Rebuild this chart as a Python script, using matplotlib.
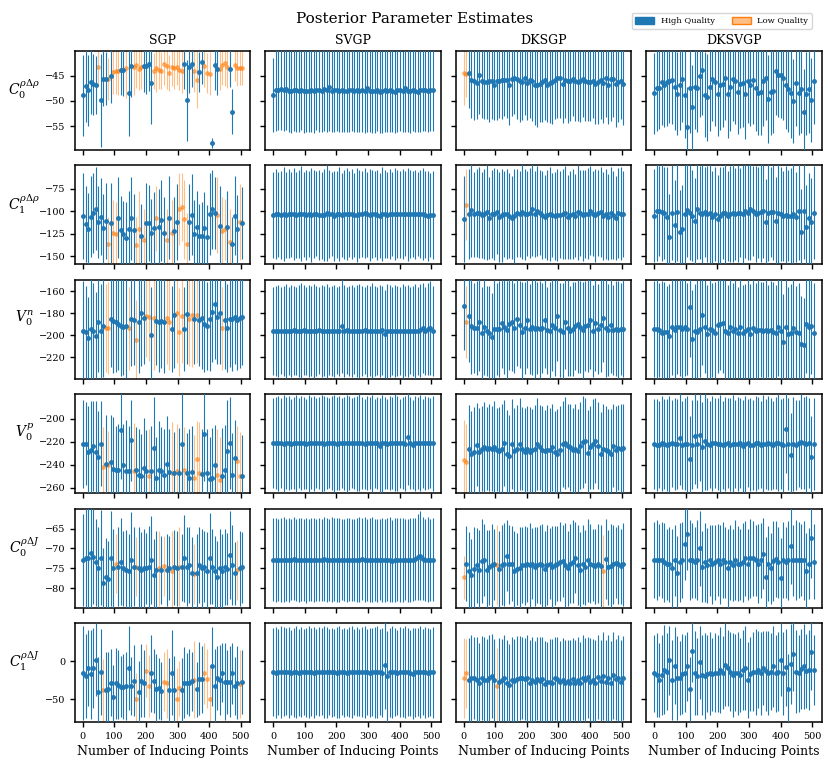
import matplotlib
matplotlib.use("Agg")
import matplotlib.pyplot as plt
import matplotlib.patches as mpatches
import numpy as np

plt.rcParams["font.family"] = "DejaVu Serif"
plt.rcParams["mathtext.fontset"] = "dejavuserif"

# ---------------- data ----------------
N_INDUCING = list(range(1, 506, 8))
METHODS = ["SGP", "SVGP", "DKSGP", "DKSVGP"]
PARAMS = ["C0DRHO", "C1DRHO", "V0N", "V0P", "C0DJ", "C1DJ"]
PARAM_LABELS = [r"$C_0^{\rho\Delta\rho}$", r"$C_1^{\rho\Delta\rho}$", r"$V_0^n$",
                r"$V_0^p$", r"$C_0^{\rho\Delta J}$", r"$C_1^{\rho\Delta J}$"]
YLIMS = [(-59.7, -40.1), (-159, -49), (-239.6, -149.4),
         (-264.7, -178.9), (-84.9, -60.0), (-79.5, 49.5)]
YTICKS = [[-55, -50, -45], [-150, -125, -100, -75], [-220, -200, -180, -160],
          [-260, -240, -220, -200], [-80, -75, -70, -65], [-50, 0]]

# ---- row 1: C0 rho-delta-rho ----
SGP_C0DRHO_MEAN = [-48.9, -47.0, -47.9, -46.2, -46.7, -46.8, -43.2, -49.9,
                   -45.6, -45.6, -45.7, -45.0, -44.2, -44.1, -44.0, -43.9,
                   -43.9, -43.4, -48.4, -43.0, -43.3, -42.9, -43.7, -43.2,
                   -43.1, -43.0, -42.6, -46.4, -44.1, -43.4, -43.9, -44.0,
                   -42.7, -43.1, -44.5, -43.2, -43.4, -43.3, -43.8, -44.0,
                   -42.7, -49.9, -43.2, -42.6, -44.0, -45.8, -44.3, -42.2,
                   -43.0, -44.5, -44.6, -58.3, -42.9, -43.6, -43.6, -42.8,
                   -42.4, -43.2, -43.6, -52.1, -42.8, -43.4, -43.4, -43.5]
SGP_C0DRHO_ERR = [8.0, 7.2, 7.0, 6.4, 6.0, 5.8, 4.0, 9.2,
                  5.4, 5.2, 4.2, 5.5, 4.4, 4.6, 4.8, 5.0,
                  5.2, 6.0, 8.5, 6.2, 5.6, 4.6, 4.2, 4.4,
                  5.2, 5.6, 5.4, 8.2, 3.6, 4.8, 3.8, 3.6,
                  4.2, 4.6, 3.6, 3.8, 4.2, 3.6, 4.0, 4.4,
                  5.0, 8.0, 5.2, 4.6, 4.2, 5.6, 4.0, 4.5,
                  4.2, 4.0, 4.2, 1.0, 5.0, 5.2, 4.2, 4.0,
                  4.6, 4.2, 3.6, 4.5, 3.2, 3.6, 3.4, 3.4]
SGP_C0DRHO_LOW = [6, 10, 12, 13, 14, 17, 20, 21, 22, 23, 28, 29, 30, 31, 32, 33, 34,
                  35, 36, 37, 38, 39, 44, 45, 48, 49, 50, 54, 55, 56, 57, 60, 61, 62, 63]

SVGP_C0DRHO_MEAN = [-48.8, -47.9, -47.8, -47.7, -47.8, -47.7, -48.0, -48.1,
                    -47.8, -47.9, -48.0, -47.8, -48.1, -48.0, -48.0, -47.9,
                    -48.1, -47.8, -47.9, -48.0, -47.7, -47.9, -47.3, -48.0,
                    -47.9, -47.8, -48.0, -47.9, -48.1, -48.0, -47.9, -47.8,
                    -48.0, -47.9, -48.1, -47.9, -48.0, -47.4, -48.0, -48.1,
                    -48.0, -47.9, -48.2, -48.0, -47.9, -48.1, -47.8, -48.0,
                    -48.2, -47.9, -47.8, -48.1, -47.4, -48.0, -48.1, -47.9,
                    -48.0, -48.2, -47.9, -47.8, -47.8, -48.0, -47.9, -47.9]
SVGP_C0DRHO_ERR = [7.4, 8.1, 8.0, 8.1, 8.2, 8.0, 8.1, 8.2,
                   8.1, 8.3, 8.2, 8.0, 8.3, 8.2, 8.1, 8.3,
                   8.2, 8.0, 8.3, 8.1, 8.2, 8.3, 8.6, 8.1,
                   8.3, 8.2, 8.1, 8.3, 8.0, 8.2, 8.3, 8.1,
                   8.2, 8.3, 8.1, 8.2, 8.3, 8.7, 8.1, 8.2,
                   8.3, 8.1, 8.2, 8.3, 8.2, 8.1, 8.3, 8.2,
                   8.1, 8.3, 8.2, 8.0, 8.7, 8.2, 8.3, 8.1,
                   8.2, 8.0, 8.3, 8.2, 8.1, 8.2, 8.0, 8.1]
SVGP_C0DRHO_LOW = []

DKSGP_C0DRHO_MEAN = [-44.5, -44.7, -44.4, -45.8, -46.0, -46.4, -44.9, -46.0,
                     -46.3, -46.2, -46.1, -46.1, -46.8, -46.0, -46.0, -45.9,
                     -45.8, -45.8, -46.9, -45.6, -45.5, -45.7, -46.0, -46.2,
                     -45.4, -46.5, -45.8, -46.0, -46.9, -46.8, -46.6, -46.2,
                     -45.8, -46.9, -46.5, -46.3, -45.9, -45.5, -45.4, -46.6,
                     -45.8, -46.0, -46.0, -45.6, -46.0, -46.2, -46.0, -45.6,
                     -46.1, -46.3, -46.2, -46.0, -46.7, -46.2, -45.9, -46.4,
                     -45.5, -46.8, -45.7, -45.7, -46.7, -46.2, -46.0, -46.6]
DKSGP_C0DRHO_ERR = [6.3, 4.5, 7.0, 7.5, 7.8, 7.2, 7.6, 7.4,
                    7.2, 7.4, 8.0, 7.5, 7.0, 7.8, 7.3, 7.6,
                    7.2, 7.5, 7.8, 7.4, 7.0, 7.8, 8.2, 7.6,
                    7.4, 7.2, 7.6, 8.0, 7.8, 8.4, 7.6, 7.9,
                    8.0, 7.2, 7.9, 8.2, 7.6, 7.8, 8.0, 7.7,
                    7.6, 8.3, 7.9, 7.4, 8.0, 7.8, 8.2, 7.5,
                    7.9, 7.6, 7.8, 7.4, 7.9, 8.3, 7.7, 8.0,
                    7.6, 7.8, 8.2, 7.5, 8.4, 7.9, 7.6, 8.1]
DKSGP_C0DRHO_LOW = [0, 1]

DKSVGP_C0DRHO_MEAN = [-48.5, -47.4, -47.4, -46.2, -46.8, -46.2, -46.0, -45.9,
                      -47.3, -48.6, -46.8, -45.7, -48.8, -55.2, -47.5, -51.3,
                      -47.3, -47.5, -45.0, -43.8, -48.8, -49.3, -47.2, -45.6,
                      -46.3, -48.6, -46.8, -46.7, -45.5, -48.7, -47.2, -45.6,
                      -46.0, -48.3, -46.7, -46.5, -48.6, -46.0, -46.8, -45.8,
                      -47.4, -48.4, -48.2, -46.1, -45.5, -49.6, -48.3, -48.1,
                      -44.0, -44.8, -44.8, -45.4, -46.8, -47.6, -48.5, -50.0,
                      -46.4, -48.4, -47.6, -52.1, -48.6, -47.7, -49.8, -46.0]
DKSVGP_C0DRHO_ERR = [8.0, 8.5, 8.2, 8.6, 8.3, 8.8, 8.4, 8.7,
                     8.5, 8.2, 8.9, 8.4, 8.6, 8.0, 8.8, 8.5,
                     8.3, 8.7, 8.2, 8.9, 8.4, 8.6, 8.8, 8.3,
                     8.7, 8.4, 8.9, 8.5, 8.2, 8.6, 8.8, 8.4,
                     8.5, 8.3, 8.7, 8.6, 8.9, 8.4, 8.2, 8.8,
                     8.6, 8.4, 8.5, 8.9, 8.3, 8.7, 8.5, 8.2,
                     8.8, 8.4, 8.6, 8.3, 8.7, 8.5, 8.9, 8.4,
                     8.6, 8.3, 8.8, 8.5, 8.2, 8.7, 8.4, 8.6]
DKSVGP_C0DRHO_LOW = []

# ---- row 2: C1 rho-delta-rho ----
SGP_C1DRHO_MEAN = [-105, -114, -120, -106, -102, -97, -112, -106,
                   -119, -111, -136, -113, -124, -125, -107, -121,
                   -125, -130, -120, -108, -121, -138, -120, -128,
                   -132, -113, -113, -124, -119, -108, -117, -110,
                   -124, -132, -107, -124, -122, -112, -98, -95,
                   -109, -136, -112, -104, -125, -117, -128, -128,
                   -119, -129, -103, -98, -102, -104, -116, -122,
                   -120, -118, -134, -136, -105, -120, -112, -113]
SGP_C1DRHO_ERR = [48, 42, 40, 45, 44, 46, 40, 43,
                  38, 42, 30, 44, 36, 35, 45, 38,
                  36, 40, 42, 46, 40, 32, 42, 36,
                  34, 44, 42, 38, 40, 36, 42, 45,
                  40, 34, 46, 36, 38, 42, 40, 38,
                  44, 34, 42, 45, 38, 40, 36, 38,
                  40, 36, 46, 44, 40, 42, 44, 38,
                  34, 40, 36, 30, 44, 38, 42, 40]
SGP_C1DRHO_LOW = [10, 12, 13, 21, 22, 24, 29, 33, 35, 38, 39, 40, 41, 53, 55, 56, 58, 62]

SVGP_C1DRHO_MEAN = [-104.5, -103.0, -103.5, -104.0, -103.2, -103.8, -102.5, -103.6,
                    -103.0, -104.2, -103.4, -102.8, -103.6, -104.5, -103.1, -103.9,
                    -103.3, -102.6, -103.8, -104.6, -104.0, -102.0, -103.4, -103.0,
                    -104.8, -103.5, -103.2, -103.9, -103.6, -103.0, -102.8, -103.5,
                    -103.9, -104.1, -102.9, -103.3, -102.2, -103.6, -104.3, -103.4,
                    -103.0, -103.7, -105.0, -103.1, -102.6, -103.8, -103.5, -103.2,
                    -102.9, -103.4, -103.6, -103.1, -102.7, -103.5, -103.0, -103.3,
                    -103.6, -102.9, -103.4, -103.1, -103.7, -104.9, -104.2, -104.4]
SVGP_C1DRHO_ERR = [48, 50, 47, 49, 52, 48, 50, 47,
                   51, 48, 49, 53, 47, 50, 48, 52,
                   49, 47, 50, 48, 51, 53, 49, 47,
                   50, 48, 52, 47, 49, 51, 48, 50,
                   47, 52, 49, 48, 50, 47, 51, 49,
                   48, 50, 47, 52, 49, 48, 50, 47,
                   51, 49, 48, 50, 47, 52, 49, 48,
                   50, 47, 49, 51, 48, 50, 47, 49]
SVGP_C1DRHO_LOW = []

DKSGP_C1DRHO_MEAN = [-108.6, -92.5, -103.0, -99.0, -103.5, -102.0, -101.5, -103.8,
                     -103.0, -101.0, -107.5, -103.2, -102.8, -100.5, -106.0, -104.5,
                     -103.2, -103.0, -104.8, -107.0, -105.2, -101.5, -103.0, -100.5,
                     -103.6, -102.5, -101.8, -97.8, -103.3, -100.2, -101.6, -104.0,
                     -106.2, -104.5, -103.2, -103.9, -105.0, -104.1, -103.7, -102.8,
                     -101.6, -106.5, -104.3, -102.7, -104.9, -101.2, -102.2, -104.6,
                     -103.4, -102.6, -99.2, -102.5, -104.5, -101.8, -100.8, -105.3,
                     -102.7, -106.3, -101.9, -103.7, -107.7, -102.4, -102.7, -103.1]
DKSGP_C1DRHO_ERR = [48, 40, 50, 52, 47, 49, 51, 48,
                    50, 53, 46, 49, 51, 47, 50, 52,
                    48, 50, 47, 46, 52, 49, 48, 53,
                    51, 47, 50, 52, 48, 50, 47, 49,
                    46, 50, 52, 47, 49, 51, 48, 50,
                    52, 47, 49, 50, 46, 53, 48, 51,
                    49, 51, 50, 47, 52, 48, 50, 49,
                    50, 48, 51, 49, 47, 50, 52, 48]
DKSGP_C1DRHO_LOW = [1]

DKSVGP_C1DRHO_MEAN = [-104.8, -100.0, -99.5, -101.0, -102.2, -106.7, -128.3, -101.7,
                      -114.9, -101.0, -123.5, -119.5, -103.0, -98.8, -101.5, -104.8,
                      -111.2, -97.4, -101.4, -103.0, -101.2, -103.0, -102.2, -106.0,
                      -103.0, -108.6, -104.8, -102.2, -101.4, -104.8, -103.0, -101.4,
                      -103.0, -102.2, -101.4, -103.0, -99.5, -101.4, -98.0, -100.0,
                      -103.0, -101.4, -101.2, -100.0, -112.3, -101.4, -100.6, -101.0,
                      -110.4, -102.2, -103.0, -104.8, -103.8, -104.8, -104.8, -103.0,
                      -106.7, -100.0, -123.5, -100.0, -117.0, -108.0, -112.3, -101.4]
DKSVGP_C1DRHO_ERR = [52, 55, 50, 54, 51, 56, 48, 53,
                     50, 54, 47, 49, 55, 52, 53, 51,
                     48, 56, 52, 54, 50, 53, 55, 51,
                     52, 49, 54, 51, 56, 50, 53, 55,
                     51, 54, 50, 55, 52, 53, 56, 50,
                     53, 51, 55, 52, 48, 54, 50, 53,
                     49, 55, 52, 50, 54, 51, 53, 56,
                     50, 54, 48, 53, 46, 51, 49, 52]
DKSVGP_C1DRHO_LOW = []

# ---- row 3: V0 n ----
SGP_V0N_MEAN = [-195.8, -196.7, -202.7, -194.2, -196.5, -200.9, -187.6, -195.8,
                -191.2, -193.6, -193.6, -185.2, -186.7, -188.2, -189.7, -191.2,
                -192.6, -191.5, -193.5, -185.2, -185.8, -204.2, -188.2, -179.7,
                -184.5, -182.1, -183.6, -199.7, -184.5, -186.5, -188.2, -187.0,
                -188.2, -184.5, -187.6, -194.2, -181.5, -180.0, -197.3, -182.1,
                -194.2, -180.6, -185.1, -181.5, -185.1, -181.5, -185.7, -184.5,
                -189.7, -191.2, -185.1, -179.1, -171.5, -183.3, -180.0, -193.6,
                -186.0, -193.6, -185.1, -185.1, -183.5, -186.2, -184.0, -183.0]
SGP_V0N_ERR = [45, 42, 38, 48, 44, 40, 46, 43,
               47, 40, 42, 44, 48, 45, 42, 46,
               44, 47, 38, 43, 41, 36, 46, 48,
               42, 38, 40, 44, 47, 41, 45, 43,
               46, 42, 44, 39, 48, 45, 40, 43,
               38, 46, 43, 47, 41, 44, 42, 46,
               44, 40, 47, 45, 50, 43, 46, 38,
               45, 40, 44, 47, 43, 45, 46, 44]
SGP_V0N_LOW = [9, 10, 18, 21, 25, 26, 28, 33, 34, 37, 38, 39, 42, 43, 45, 55]

SVGP_V0N_MEAN = [-196.0, -195.8, -195.9, -195.7, -196.1, -195.8, -196.3, -195.9,
                 -195.6, -195.9, -196.0, -195.7, -195.4, -196.2, -195.8, -195.9,
                 -196.1, -195.7, -195.5, -195.9, -196.2, -195.8, -195.8, -195.9,
                 -196.0, -195.7, -195.9, -191.8, -195.8, -195.6, -195.9, -196.0,
                 -195.7, -195.9, -196.1, -195.8, -195.5, -195.9, -196.0, -195.7,
                 -195.8, -196.1, -195.9, -195.6, -198.8, -196.0, -195.8, -195.9,
                 -196.2, -195.7, -195.9, -196.0, -195.8, -196.1, -195.7, -195.9,
                 -196.0, -195.8, -195.6, -193.0, -196.1, -194.5, -193.5, -195.9]
SVGP_V0N_ERR = [40, 41, 42, 40, 41, 43, 40, 42,
                41, 40, 42, 43, 41, 40, 42, 41,
                43, 41, 40, 42, 41, 43, 40, 41,
                42, 40, 41, 43, 42, 40, 41, 42,
                40, 42, 43, 41, 40, 42, 41, 43,
                41, 40, 42, 41, 40, 43, 42, 40,
                42, 41, 40, 43, 41, 42, 40, 41,
                43, 40, 42, 41, 40, 42, 43, 41]
SVGP_V0N_LOW = []

DKSGP_V0N_MEAN = [-173.6, -187.6, -182.7, -191.2, -193.3, -193.3, -187.6, -197.9,
                  -192.1, -195.8, -197.9, -201.8, -194.2, -194.2, -194.2, -189.0,
                  -192.5, -195.5, -190.0, -188.3, -193.5, -184.9, -190.2, -196.8,
                  -193.0, -186.0, -194.6, -192.8, -194.0, -193.0, -194.5, -193.7,
                  -186.4, -195.5, -196.5, -190.5, -193.1, -182.5, -195.0, -197.4,
                  -188.3, -193.5, -196.0, -194.3, -191.4, -189.6, -192.8, -195.6,
                  -191.1, -190.2, -185.9, -196.0, -188.8, -194.6, -190.5, -184.3,
                  -193.0, -195.3, -190.6, -194.8, -193.8, -195.4, -194.5, -194.0]
DKSGP_V0N_ERR = [40, 33, 42, 44, 41, 43, 45, 42,
                 44, 41, 43, 40, 45, 42, 44, 41,
                 43, 45, 42, 44, 41, 43, 40, 45,
                 42, 44, 41, 43, 45, 42, 44, 41,
                 43, 40, 45, 42, 44, 41, 43, 45,
                 42, 44, 41, 43, 40, 45, 42, 44,
                 41, 43, 45, 42, 44, 41, 43, 40,
                 45, 42, 44, 41, 43, 45, 42, 44]
DKSGP_V0N_LOW = [1]

DKSVGP_V0N_MEAN = [-194.2, -194.2, -195.0, -197.5, -196.8, -196.8, -201.0, -192.5,
                   -195.5, -192.5, -192.5, -194.0, -192.8, -194.5, -173.9, -203.3,
                   -196.0, -196.9, -194.0, -181.5, -192.0, -199.0, -194.5, -195.0,
                   -197.5, -190.5, -189.5, -189.0, -196.5, -197.5, -192.8, -196.5,
                   -194.2, -197.5, -192.5, -198.0, -196.5, -194.2, -198.5, -193.0,
                   -196.5, -195.0, -194.8, -196.0, -195.0, -196.2, -194.8, -197.2,
                   -197.5, -192.0, -195.8, -206.4, -192.5, -199.0, -198.0, -193.0,
                   -197.0, -198.0, -207.9, -208.8, -189.7, -192.7, -191.2, -197.9]
DKSVGP_V0N_ERR = [44, 46, 43, 47, 45, 42, 48, 44,
                  46, 43, 45, 47, 44, 42, 46, 45,
                  43, 47, 44, 46, 42, 45, 48, 43,
                  46, 44, 42, 45, 47, 43, 46, 44,
                  45, 42, 47, 44, 43, 46, 45, 48,
                  44, 46, 43, 45, 47, 42, 44, 46,
                  43, 45, 48, 44, 46, 43, 45, 47,
                  42, 46, 44, 43, 45, 47, 44, 46]
DKSVGP_V0N_LOW = []

# ---- row 4: V0 p ----
SGP_V0P_MEAN = [-221.8, -221.8, -229.0, -227.0, -224.0, -229.0, -233.4, -221.8,
                -242.0, -239.7, -240.6, -237.7, -243.5, -244.4, -244.4, -210.0,
                -240.6, -245.5, -245.5, -218.9, -245.5, -244.9, -249.3, -250.2,
                -242.6, -245.5, -250.2, -245.5, -225.2, -251.3, -244.4, -245.5,
                -249.3, -239.7, -246.4, -247.3, -247.3, -245.5, -247.3, -221.8,
                -244.9, -247.3, -251.3, -246.4, -251.3, -235.4, -247.3, -247.9,
                -213.3, -247.3, -252.2, -251.3, -240.6, -249.3, -253.0, -250.0,
                -244.9, -228.0, -221.2, -249.3, -234.0, -236.8, -250.0, -250.0]
SGP_V0P_ERR = [38, 36, 40, 42, 39, 44, 40, 37,
               35, 43, 30, 41, 45, 38, 40, 42,
               36, 44, 39, 35, 42, 38, 40, 37,
               43, 36, 41, 39, 44, 35, 42, 38,
               40, 42, 37, 44, 36, 41, 39, 43,
               38, 35, 42, 40, 37, 33, 44, 39,
               41, 38, 36, 43, 35, 40, 37, 42,
               39, 44, 40, 37, 33, 30, 38, 36]
SGP_V0P_LOW = [8, 10, 20, 26, 35, 37, 40, 44, 45, 46, 53, 54, 61, 62]

SVGP_V0P_MEAN = [-221.5, -221.0, -221.6, -221.3, -221.8, -221.4, -221.1, -221.7,
                 -221.3, -221.6, -221.2, -221.0, -221.5, -221.7, -221.4, -221.2,
                 -221.6, -221.1, -221.3, -221.5, -221.8, -221.2, -221.4, -221.0,
                 -221.5, -221.7, -221.3, -221.1, -221.6, -221.4, -221.2, -221.5,
                 -221.3, -221.6, -221.0, -221.4, -221.7, -221.2, -221.5, -221.3,
                 -221.6, -221.1, -223.5, -221.4, -221.2, -221.7, -221.3, -221.5,
                 -221.0, -221.4, -221.6, -221.2, -221.8, -216.0, -221.1, -222.5,
                 -221.5, -221.3, -221.2, -221.6, -221.3, -221.0, -221.4, -221.5]
SVGP_V0P_ERR = [39, 40, 41, 39, 42, 40, 41, 39,
                40, 42, 39, 41, 40, 39, 42, 40,
                41, 39, 40, 42, 41, 40, 39, 41,
                42, 40, 41, 39, 40, 42, 41, 39,
                40, 41, 42, 40, 39, 41, 40, 42,
                39, 40, 41, 42, 40, 39, 41, 40,
                42, 41, 39, 40, 41, 42, 40, 39,
                41, 40, 42, 39, 41, 40, 39, 41]
SVGP_V0P_LOW = []

DKSGP_V0P_MEAN = [-236.2, -237.7, -226.0, -230.4, -229.0, -222.6, -229.0, -226.0,
                  -224.5, -226.0, -225.2, -226.0, -225.0, -227.0, -228.0, -226.5,
                  -221.2, -230.4, -232.5, -222.0, -227.8, -226.0, -222.0, -226.0,
                  -229.0, -226.0, -229.0, -227.5, -226.0, -222.0, -225.0, -227.5,
                  -228.4, -227.5, -227.5, -225.0, -229.0, -230.4, -227.0, -222.0,
                  -221.2, -223.5, -225.0, -227.5, -226.0, -228.0, -223.5, -220.6,
                  -219.2, -230.2, -225.0, -221.8, -219.2, -223.5, -230.4, -226.0,
                  -226.9, -228.4, -230.4, -223.5, -227.0, -225.2, -226.0, -225.5]
DKSGP_V0P_ERR = [35, 33, 38, 37, 39, 36, 38, 37,
                 39, 36, 38, 37, 40, 36, 38, 39,
                 37, 38, 36, 39, 37, 38, 40, 36,
                 38, 37, 39, 36, 38, 40, 37, 38,
                 36, 39, 37, 38, 36, 39, 38, 37,
                 40, 36, 38, 37, 39, 36, 38, 40,
                 37, 38, 36, 39, 37, 38, 36, 39,
                 38, 37, 39, 36, 38, 37, 39, 38]
DKSGP_V0P_LOW = [0, 1]

DKSVGP_V0P_MEAN = [-221.8, -222.8, -222.5, -221.5, -221.8, -223.0, -222.0, -221.6,
                   -221.8, -222.0, -216.8, -223.0, -222.0, -222.0, -234.8, -222.5,
                   -215.4, -222.0, -214.5, -225.0, -219.7, -222.0, -222.5, -221.5,
                   -221.5, -222.0, -221.8, -223.0, -222.0, -221.0, -222.5, -221.8,
                   -222.3, -222.0, -221.5, -223.5, -222.0, -221.0, -222.5, -223.0,
                   -221.5, -221.0, -222.5, -221.8, -222.0, -221.0, -222.0, -222.8,
                   -221.5, -221.0, -222.0, -223.0, -209.3, -222.0, -231.9, -222.0,
                   -223.0, -221.5, -220.0, -221.0, -222.0, -221.5, -233.4, -222.0]
DKSVGP_V0P_ERR = [39, 40, 38, 41, 39, 40, 42, 38,
                  40, 39, 41, 38, 40, 42, 37, 39,
                  41, 38, 40, 39, 42, 40, 38, 41,
                  39, 40, 42, 38, 41, 39, 40, 42,
                  38, 41, 39, 40, 42, 38, 40, 39,
                  41, 40, 38, 42, 39, 41, 40, 38,
                  40, 42, 39, 41, 38, 40, 37, 41,
                  39, 38, 41, 40, 42, 39, 36, 40]
DKSVGP_V0P_LOW = []

# ---- row 5: C0 rho-delta-J ----
SGP_C0DJ_MEAN = [-72.9, -72.3, -72.3, -71.1, -72.1, -73.5, -75.0, -72.3,
                 -78.8, -77.3, -77.7, -72.5, -75.0, -73.8, -74.6, -73.3,
                 -75.0, -75.4, -75.8, -72.9, -74.6, -74.6, -75.0, -75.4,
                 -75.0, -75.0, -74.8, -72.9, -76.7, -75.5, -75.0, -75.4,
                 -74.4, -75.4, -75.0, -75.7, -74.8, -75.0, -74.6, -74.8,
                 -72.5, -74.6, -74.2, -76.2, -76.5, -76.3, -74.2, -75.0,
                 -74.6, -75.8, -72.5, -74.6, -75.8, -77.1, -75.0, -75.8,
                 -74.7, -75.2, -71.7, -74.2, -76.3, -75.4, -75.0, -74.8]
SGP_C0DJ_ERR = [11.5, 13, 13, 14, 12, 11, 10.5, 12,
                9, 10, 9.5, 12, 10, 7.5, 10, 11,
                9.5, 10, 9.5, 12, 10, 7.5, 10.5, 9.5,
                10, 9, 10.5, 11, 9, 10, 9.5, 8.5,
                7.5, 9, 8, 10, 9.5, 9.5, 10, 8.5,
                11, 10, 9.5, 9, 7.5, 10, 9.5, 10,
                9, 10, 11.5, 9.5, 9, 9, 10, 9.5,
                9.5, 9, 11, 10, 8, 7.5, 9.5, 9]
SGP_C0DJ_LOW = [13, 21, 30, 32, 35, 38, 44, 61]

SVGP_C0DJ_MEAN = [-72.8, -72.9, -73.0, -72.9, -72.8, -72.9, -73.0, -72.8,
                  -72.6, -72.9, -73.0, -72.8, -72.9, -73.0, -72.9, -72.8,
                  -72.9, -73.0, -72.8, -72.9, -72.7, -72.9, -73.0, -72.9,
                  -72.8, -73.0, -72.9, -72.8, -72.9, -73.0, -72.8, -72.9,
                  -73.0, -72.9, -72.8, -72.7, -72.9, -73.0, -72.9, -72.8,
                  -72.9, -73.0, -72.8, -72.9, -73.0, -72.8, -72.9, -73.2,
                  -72.9, -72.8, -73.0, -72.9, -72.8, -73.0, -72.9, -72.8,
                  -72.7, -72.2, -71.8, -72.6, -72.9, -72.8, -72.9, -72.8]
SVGP_C0DJ_ERR = [10.4, 10.6, 10.3, 10.5, 10.7, 10.4, 10.6, 10.3,
                 10.5, 10.4, 10.6, 10.5, 10.3, 10.7, 10.4, 10.5,
                 10.6, 10.3, 10.5, 10.4, 10.6, 10.5, 10.3, 10.7,
                 10.4, 10.6, 10.5, 10.3, 10.4, 10.6, 10.5, 10.4,
                 10.3, 10.5, 10.6, 10.4, 10.7, 10.3, 10.5, 10.6,
                 10.4, 10.5, 10.3, 10.6, 10.4, 10.5, 10.7, 10.3,
                 10.5, 10.4, 10.6, 10.5, 10.3, 10.4, 10.6, 10.5,
                 10.4, 10.9, 11.2, 10.5, 10.4, 10.6, 10.3, 10.5]
SVGP_C0DJ_LOW = []

DKSGP_C0DJ_MEAN = [-77.3, -73.8, -75.8, -76.7, -75.2, -74.3, -75.4, -73.2,
                   -72.9, -75.4, -74.8, -74.3, -74.0, -74.2, -75.2, -74.2,
                   -74.0, -71.8, -74.0, -73.8, -75.7, -75.2, -75.0, -74.2,
                   -74.3, -74.0, -74.2, -73.8, -74.6, -74.2, -74.0, -74.3,
                   -75.2, -74.2, -73.8, -74.8, -74.3, -73.8, -73.3, -73.2,
                   -74.2, -75.0, -73.8, -73.3, -72.3, -74.2, -75.4, -74.0,
                   -74.8, -73.0, -73.8, -74.2, -74.5, -73.8, -74.5, -75.7,
                   -72.7, -74.8, -74.4, -74.0, -73.6, -74.0, -74.5, -74.0]
DKSGP_C0DJ_ERR = [5.5, 9.5, 10, 9, 10.5, 9.5, 10, 10.5,
                  9, 10, 9.5, 10.5, 9, 10, 9.5, 10,
                  10.5, 9, 10, 9.5, 10, 9, 10.5, 9.5,
                  10, 9.5, 10.5, 9, 10, 9.5, 10, 10.5,
                  9.5, 10, 9, 10.5, 10, 9.5, 10, 9,
                  10.5, 9.5, 10, 10.5, 9, 10, 9.5, 10,
                  9.5, 10.5, 10, 9, 9.5, 10, 10.5, 9,
                  10, 9.5, 10.5, 10, 9, 10, 9.5, 10.5]
DKSGP_C0DJ_LOW = [0, 13, 55]

DKSVGP_C0DJ_MEAN = [-72.9, -72.9, -72.9, -72.9, -73.5, -74.0, -74.0, -75.0,
                    -73.0, -76.3, -73.5, -72.9, -69.0, -66.4, -72.9, -73.0,
                    -73.5, -72.9, -70.0, -74.6, -73.5, -74.3, -73.0, -74.0,
                    -73.5, -72.9, -74.0, -72.9, -73.5, -75.0, -73.5, -74.2,
                    -72.9, -73.8, -74.0, -73.5, -72.5, -74.0, -72.5, -72.5,
                    -73.0, -73.8, -73.0, -71.3, -77.1, -73.8, -75.0, -73.2,
                    -72.7, -73.5, -77.5, -72.9, -73.5, -73.0, -69.4, -73.0,
                    -72.9, -72.9, -72.9, -73.0, -75.7, -73.8, -67.5, -73.3]
DKSVGP_C0DJ_ERR = [9.5, 10, 9, 9.5, 10, 9, 9.5, 10,
                   9, 9.5, 10, 9.5, 9, 9, 10, 9.5,
                   9, 10, 9.5, 9, 10, 9.5, 9, 10,
                   9.5, 9, 10, 9.5, 9, 10, 9.5, 9,
                   10, 9.5, 9, 10, 9.5, 9, 10, 9.5,
                   9, 10, 9.5, 9, 10, 9.5, 9, 10,
                   9.5, 9, 10, 9.5, 9, 10, 9.5, 9,
                   10, 9.5, 9, 10, 9.5, 9, 10, 9.5]
DKSVGP_C0DJ_LOW = []

# ---- row 6: C1 rho-delta-J ----
SGP_C1DJ_MEAN = [-15.8, -19.3, -9.2, -17.5, -9.2, 1.8, -40.0, -14.5,
                 -37.7, -37.7, -36.8, -28.0, -46.5, -29.0, -31.1, -33.3,
                 -33.3, -32.5, -9.2, -32.5, -25.4, -50.0, -40.0, -25.4,
                 -29.0, -12.3, -32.5, -15.8, -25.9, -36.8, -35.5, -38.6,
                 -26.8, -29.0, -37.7, -14.9, -37.7, -49.6, -35.5, -37.7,
                 -28.0, -29.0, -28.0, -26.5, -24.1, -36.8, -22.8, -23.7,
                 -15.8, -22.8, -50.0, -7.0, -32.5, -22.4, -24.6, -14.9,
                 -26.8, -27.2, -26.8, -15.8, -32.5, -28.0, -30.0, -27.2]
SGP_C1DJ_ERR = [61, 55, 50, 58, 52, 48, 45, 56,
                40, 50, 48, 44, 42, 46, 45, 40,
                42, 44, 55, 38, 46, 35, 40, 48,
                44, 35, 40, 50, 42, 46, 40, 38,
                38, 45, 42, 55, 44, 40, 36, 42,
                46, 40, 44, 38, 50, 36, 48, 44,
                40, 38, 45, 52, 48, 42, 46, 38,
                50, 42, 46, 40, 38, 48, 44, 42]
SGP_C1DJ_LOW = [8, 21, 25, 26, 32, 33, 37, 38, 44, 48, 49, 50, 62]

SVGP_C1DJ_MEAN = [-14.5, -15.0, -14.2, -14.8, -14.0, -13.8, -14.6, -14.9,
                  -14.3, -14.7, -15.0, -14.4, -14.1, -14.8, -14.6, -14.2,
                  -14.9, -14.5, -14.0, -13.9, -14.4, -14.8, -14.6, -14.3,
                  -14.7, -15.0, -14.5, -14.2, -14.6, -14.9, -14.3, -14.7,
                  -14.4, -14.0, -14.8, -14.5, -14.1, -14.6, -14.9, -14.3,
                  -14.6, -14.2, -14.7, -15.0, -5.7, -20.0, -14.8, -14.5,
                  -14.3, -14.9, -14.4, -14.6, -14.1, -14.5, -15.5, -16.5,
                  -14.4, -14.0, -14.8, -14.3, -14.7, -15.0, -14.6, -14.8]
SVGP_C1DJ_ERR = [57, 59, 56, 60, 58, 57, 59, 56,
                 58, 60, 57, 59, 56, 58, 60, 57,
                 59, 56, 58, 57, 60, 59, 56, 58,
                 57, 59, 60, 56, 58, 57, 59, 60,
                 56, 58, 57, 59, 60, 56, 58, 57,
                 59, 60, 56, 58, 57, 59, 58, 60,
                 57, 56, 59, 58, 60, 57, 56, 59,
                 58, 57, 60, 56, 59, 58, 57, 59]
SVGP_C1DJ_LOW = []

DKSGP_C1DJ_MEAN = [-22.4, -15.8, -24.6, -22.4, -22.0, -24.6, -29.0, -22.4,
                   -25.0, -25.0, -22.4, -19.5, -24.6, -32.5, -26.8, -24.6,
                   -22.4, -28.0, -31.0, -25.0, -25.5, -23.0, -22.5, -22.0,
                   -23.5, -22.4, -28.0, -24.6, -27.0, -23.0, -25.5, -24.0,
                   -30.0, -27.5, -26.8, -28.0, -22.4, -24.0, -27.0, -24.6,
                   -29.0, -26.0, -29.0, -23.5, -28.0, -25.0, -28.5, -21.5,
                   -24.6, -21.0, -27.0, -25.0, -29.0, -21.0, -25.5, -19.5,
                   -27.0, -22.4, -29.0, -18.5, -24.0, -22.4, -26.8, -22.4]
DKSGP_C1DJ_ERR = [52, 45, 55, 57, 54, 56, 53, 55,
                  57, 54, 56, 55, 53, 50, 57, 54,
                  56, 55, 53, 57, 54, 56, 55, 53,
                  54, 57, 55, 56, 53, 54, 57, 55,
                  56, 53, 55, 57, 54, 56, 53, 55,
                  57, 54, 56, 53, 55, 57, 54, 56,
                  55, 53, 57, 54, 56, 55, 53, 57,
                  54, 56, 55, 57, 53, 56, 54, 55]
DKSGP_C1DJ_LOW = [0, 1, 13]

DKSVGP_C1DJ_MEAN = [-15.8, -18.0, -24.6, -18.0, -11.4, -14.0, 0.9, -24.6,
                    -6.1, -22.4, -22.4, -17.0, -15.8, -7.0, -36.8, 12.7,
                    -15.8, -20.0, -1.8, -18.0, -19.3, -16.5, -15.8, -17.5,
                    -14.9, -16.0, -11.4, -15.0, -4.8, -9.2, -13.6, -18.5,
                    -14.9, -16.0, -18.0, -12.0, -9.2, -24.6, -17.0, -13.6,
                    -14.5, -11.4, -16.0, -9.2, -12.5, -15.8, -14.0, -7.0,
                    -16.0, -13.6, 1.8, -15.8, -8.3, -36.8, -3.5, 8.8,
                    -14.0, -15.8, -10.0, -7.0, -13.0, -11.4, 11.8, -11.4]
DKSVGP_C1DJ_ERR = [50, 55, 48, 52, 58, 50, 45, 52,
                   50, 55, 48, 52, 50, 45, 42, 40,
                   55, 50, 48, 52, 56, 50, 54, 48,
                   52, 50, 56, 48, 54, 50, 52, 55,
                   50, 54, 48, 52, 55, 50, 48, 52,
                   56, 50, 54, 48, 52, 55, 50, 53,
                   50, 52, 48, 54, 50, 46, 52, 48,
                   54, 50, 52, 55, 48, 52, 50, 46]
DKSVGP_C1DJ_LOW = []

BLUE = "#1f77b4"
ORANGE = "#ff7f0e"

# ---------------- plot ----------------
fig, axes = plt.subplots(6, 4, figsize=(8.3, 7.7), dpi=100, sharex=True, sharey="row")
fig.subplots_adjust(left=0.0904, right=0.990, top=0.9338, bottom=0.0623,
                    wspace=0.0857, hspace=0.157)

x = np.array(N_INDUCING)
for r, param in enumerate(PARAMS):
    for c, method in enumerate(METHODS):
        ax = axes[r, c]
        mean = np.array(globals()[f"{method}_{param}_MEAN"], dtype=float)
        err = np.array(globals()[f"{method}_{param}_ERR"], dtype=float)
        low = np.zeros(len(mean), dtype=bool)
        low[globals()[f"{method}_{param}_LOW"]] = True

        if low.any():
            ax.errorbar(x[low], mean[low], yerr=err[low], fmt="o", ms=2.5,
                        color=ORANGE, elinewidth=0.8, capsize=0, alpha=0.5, zorder=2)
        ax.errorbar(x[~low], mean[~low], yerr=err[~low], fmt="o", ms=2.5,
                    color=BLUE, elinewidth=0.8, capsize=0, zorder=3)

        ax.set_ylim(*YLIMS[r])
        ax.set_yticks(YTICKS[r])
        ax.set_xticks([0, 100, 200, 300, 400, 500])
        ax.tick_params(labelsize=7, width=1.0, length=3.5)
        for sp in ax.spines.values():
            sp.set_linewidth(1.1)

        if r == 0:
            ax.set_title(method, fontsize=9, pad=5)
        if r == 5:
            ax.set_xlabel("Number of Inducing Points", fontsize=9, labelpad=3)
        if c == 0:
            ax.set_ylabel(PARAM_LABELS[r], rotation=0, fontsize=10, ha="center", va="center")
            ax.yaxis.set_label_coords(-0.29, 0.61)

fig.suptitle("Posterior Parameter Estimates", fontsize=11, y=0.985)

handles = [mpatches.Patch(facecolor=BLUE, edgecolor=BLUE, label="High Quality"),
           mpatches.Patch(facecolor=(1.0, 0.5, 0.055, 0.5), edgecolor=ORANGE, label="Low Quality")]
fig.legend(handles=handles, loc="upper right", bbox_to_anchor=(0.983, 0.988),
           ncol=2, fontsize=6, handlelength=2.3, handleheight=1.0, columnspacing=2.0)

fig.savefig("out.png", dpi=100)
